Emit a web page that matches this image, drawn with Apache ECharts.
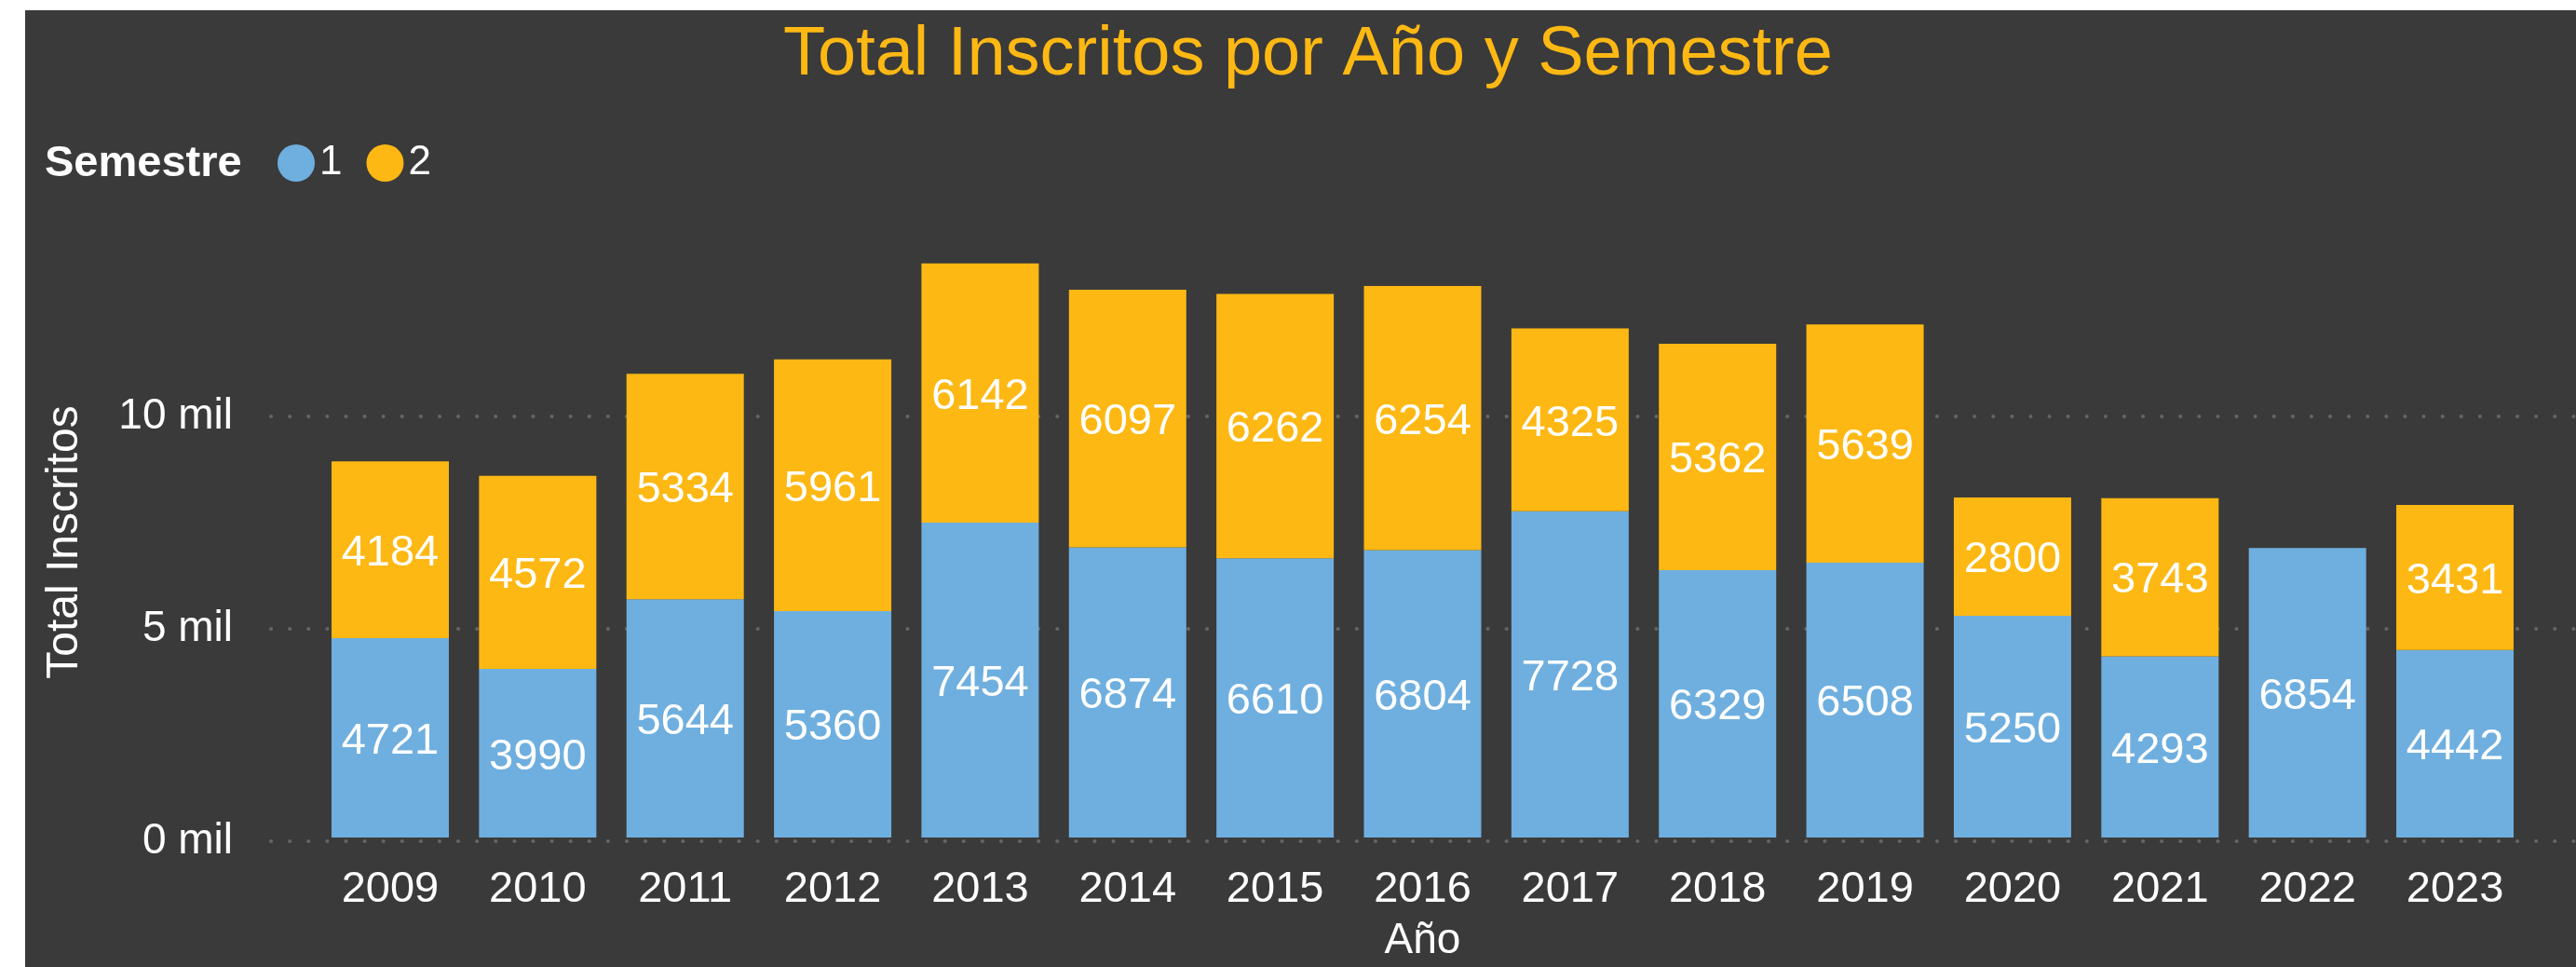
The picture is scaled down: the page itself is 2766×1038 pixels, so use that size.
<!DOCTYPE html>
<html>
<head>
<meta charset="utf-8">
<title>Total Inscritos por Año y Semestre</title>
<script src="https://cdn.jsdelivr.net/npm/echarts@6/dist/echarts.min.js"></script>
<style>
  html, body { margin: 0; padding: 0; background: #ffffff; }
  #wrap { position: relative; width: 2766px; height: 1038px; background: #ffffff; }
  #chart { position: absolute; left: 27px; top: 11px; width: 2739px; height: 1027px; }
</style>
</head>
<body>
<div id="wrap"><div id="chart"></div></div>
<script>
// datos
const anios = ["2009", "2010", "2011", "2012", "2013", "2014", "2015", "2016",
  "2017", "2018", "2019", "2020", "2021", "2022", "2023"];
const semestre1 = [4721, 3990, 5644, 5360, 7454, 6874, 6610, 6804, 7728, 6329, 6508, 5250, 4293, 6854, 4442];
const semestre2 = [4184, 4572, 5334, 5961, 6142, 6097, 6262, 6254, 4325, 5362, 5639, 2800, 3743, null, 3431];
const yTicks = [0, 5000, 10000];

const FONT = "'Liberation Sans', Arial, sans-serif";
const BLUE = "#6FAFDF";
const ORANGE = "#FDB813";

const chart = echarts.init(document.getElementById("chart"));

const labelStyle = {
  show: true,
  position: "inside",
  offset: [0, 4],
  color: "#ffffff",
  fontSize: 47,
  fontFamily: FONT,
  textBorderWidth: 0
};

const option = {
  backgroundColor: "#3A3A3A",
  animation: false,
  title: {
    text: "Total Inscritos por Año y Semestre",
    left: 814,
    top: 12,
    padding: 0,
    textStyle: { color: ORANGE, fontSize: 74, fontWeight: "normal", fontFamily: FONT }
  },
  legend: {
    left: 271,
    top: 142,
    padding: 0,
    icon: "circle",
    itemWidth: 40,
    itemHeight: 40,
    itemGap: 26,
    itemTextGap: 6,
    textStyle: { color: "#ffffff", fontSize: 44, fontFamily: FONT },
    data: ["1", "2"]
  },
  graphic: [
    {
      type: "text",
      x: 21,
      y: 165,
      style: {
        text: "Semestre",
        fill: "#ffffff",
        font: "bold 47px " + FONT,
        verticalAlign: "middle"
      }
    },
    {
      type: "text",
      x: 43,
      y: 571,
      rotation: Math.PI / 2,
      style: {
        text: "Total Inscritos",
        fill: "#ffffff",
        font: "48px " + FONT,
        align: "center",
        verticalAlign: "middle"
      }
    }
  ],
  grid: [
    { left: 312.8, right: 50.8, top: 208, bottom: 135 },
    { left: 264, right: 0, top: 436, bottom: 135 }
  ],
  xAxis: [
    {
      type: "category",
      gridIndex: 0,
      data: anios,
      axisLine: { show: false },
      axisTick: { show: false },
      axisLabel: { color: "#ffffff", fontSize: 47, fontFamily: FONT, margin: 33 },
      name: "Año",
      nameLocation: "middle",
      nameGap: 88,
      nameTextStyle: { color: "#ffffff", fontSize: 46, fontFamily: FONT }
    },
    { type: "value", gridIndex: 1, show: false, min: 0, max: 1 }
  ],
  yAxis: [
    { type: "value", gridIndex: 0, min: 0, max: 15000, show: false, splitLine: { show: false } },
    {
      type: "value",
      gridIndex: 1,
      min: yTicks[0],
      max: yTicks[yTicks.length - 1],
      interval: 5000,
      axisLine: { show: false },
      axisTick: { show: false },
      axisLabel: {
        color: "#ffffff",
        fontSize: 46,
        fontFamily: FONT,
        margin: 41,
        formatter: (v) => v / 1000 + " mil"
      },
      splitLine: {
        show: true,
        lineStyle: { color: "#656565", width: 4, type: [0.1, 20], cap: "round" }
      }
    }
  ],
  series: [
    {
      name: "1",
      type: "bar",
      stack: "total",
      xAxisIndex: 0,
      yAxisIndex: 0,
      barWidth: 126,
      itemStyle: { color: BLUE },
      label: labelStyle,
      data: semestre1
    },
    {
      name: "2",
      type: "bar",
      stack: "total",
      xAxisIndex: 0,
      yAxisIndex: 0,
      barWidth: 126,
      itemStyle: { color: ORANGE },
      label: labelStyle,
      data: semestre2
    }
  ]
};

chart.setOption(option);
</script>
</body>
</html>
